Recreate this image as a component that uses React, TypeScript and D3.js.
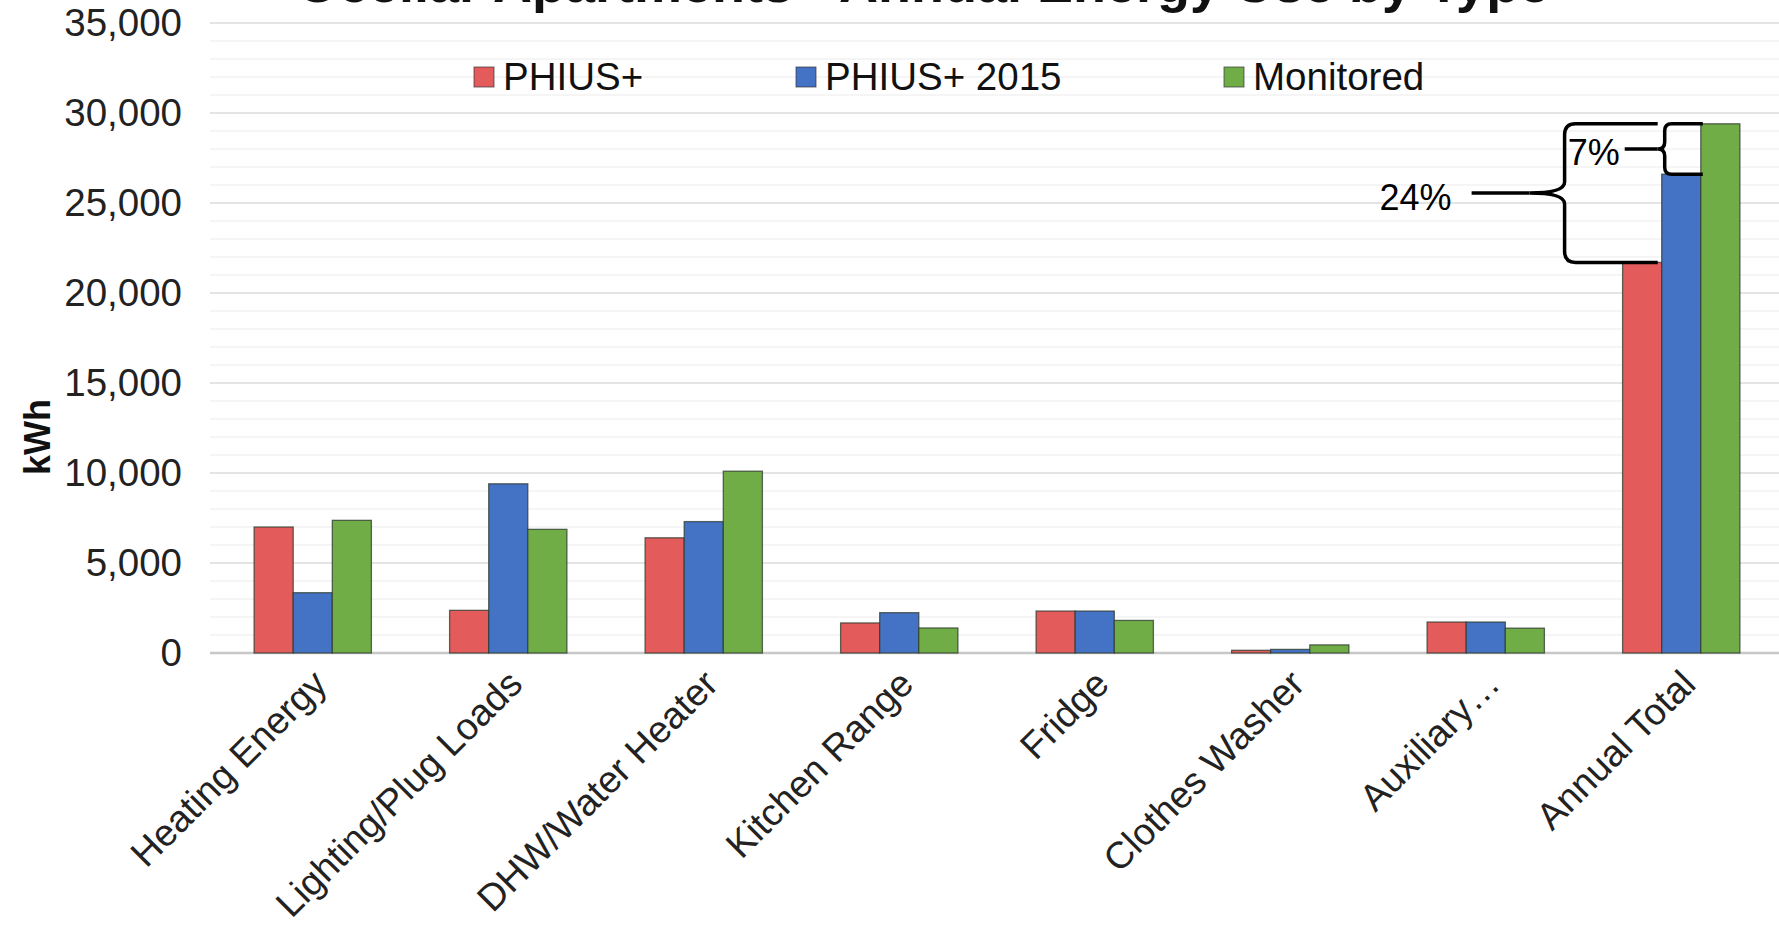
import React from "react";
import * as d3 from "d3";

const categories = [
  "Heating Energy",
  "Lighting/Plug Loads",
  "DHW/Water Heater",
  "Kitchen Range",
  "Fridge",
  "Clothes Washer",
  "Auxiliary…",
  "Annual Total",
];
const seriesNames = ["PHIUS+", "PHIUS+ 2015", "Monitored"];
const phiusPlus = [7000, 2370, 6400, 1670, 2330, 150, 1720, 21700];
const phiusPlus2015 = [3350, 9400, 7300, 2240, 2330, 200, 1720, 26600];
const monitored = [7370, 6870, 10100, 1390, 1810, 450, 1380, 29400];
const yTicks = [0, 5000, 10000, 15000, 20000, 25000, 30000, 35000];
const titleText = "Ocellar Apartments - Annual Energy Use by Type";
const yLabel = "kWh";
const pctLabels = ["24%", "7%"];

const colors = ["#e45b5b", "#4472c4", "#70ad47"];
const W = 1779;
const H = 927;
const FONT = "'Liberation Sans', Arial, sans-serif";

function bracePath(xv: number, yTop: number, yBot: number, armX: number, tipX: number, r: number) {
  const ym = (yTop + yBot) / 2;
  const p = d3.path();
  p.moveTo(armX, yTop);
  p.lineTo(xv + r, yTop);
  p.quadraticCurveTo(xv, yTop, xv, yTop + r);
  p.lineTo(xv, ym - r);
  p.quadraticCurveTo(xv, ym, tipX, ym);
  p.quadraticCurveTo(xv, ym, xv, ym + r);
  p.lineTo(xv, yBot - r);
  p.quadraticCurveTo(xv, yBot, xv + r, yBot);
  p.lineTo(armX, yBot);
  return p.toString();
}

export default function App() {
  const series = [phiusPlus, phiusPlus2015, monitored];
  const x = d3.scaleBand<string>().domain(categories).range([215, 1779]).paddingInner(0.4).paddingOuter(0.2);
  const xs = d3.scaleBand<string>().domain(seriesNames).range([0, x.bandwidth()]).padding(0);
  const y = d3.scaleLinear().domain([0, 35000]).range([653, 23]);
  const minorTicks = d3.range(0, 35001, 1000);

  const gridX0 = 210;
  const ann = categories.length - 1;
  const ax = x(categories[ann]) as number;
  const bw = xs.bandwidth();
  const yGreen = y(monitored[ann]);
  const yBlue = y(phiusPlus2015[ann]);
  const yRed = y(phiusPlus[ann]);

  // 24% brace
  const b1v = ax - 58;
  const b1tip = b1v - 35;
  const b1mid = (yGreen + yRed) / 2;
  // 7% brace
  const b2v = ax + bw + 3;
  const b2tip = b2v - 7;
  const b2mid = (yGreen + yBlue) / 2;

  const legendX = [474, 796, 1224];

  return (
    <svg width={W} height={H} style={{ display: "block", background: "#fff" }} fontFamily={FONT}>
      <style>{`body{margin:0}`}</style>
      {/* title (cut off at top, as in the source) */}
      <text x={923} y={2} textAnchor="middle" fontSize={54} fontWeight="bold" fill="#111">
        {titleText}
      </text>
      {/* minor gridlines */}
      {minorTicks.map((t) => (
        <line key={"m" + t} x1={gridX0} x2={W} y1={y(t)} y2={y(t)} stroke="#f2f2f2" strokeWidth={1.5} />
      ))}
      {/* major gridlines */}
      {yTicks.map((t) => (
        <line key={"g" + t} x1={gridX0} x2={W} y1={y(t)} y2={y(t)} stroke={t === 0 ? "#c8c8c8" : "#e4e4e4"} strokeWidth={t === 0 ? 2.5 : 1.8} />
      ))}
      {/* y tick labels */}
      {yTicks.map((t) => (
        <text key={"t" + t} x={182} y={y(t)} dy="0.35em" textAnchor="end" fontSize={38.5} fill="#222">
          {d3.format(",")(t)}
        </text>
      ))}
      <text transform={`translate(50,437) rotate(-90)`} textAnchor="middle" fontSize={36} fontWeight="bold" fill="#111">
        {yLabel}
      </text>
      {/* bars */}
      {categories.map((c, i) => (
        <g key={c}>
          {series.map((s, k) => (
            <rect
              key={k}
              x={(x(c) as number) + (xs(seriesNames[k]) as number)}
              y={y(s[i])}
              width={bw}
              height={y(0) - y(s[i])}
              fill={colors[k]}
              stroke="#2d3a2d"
              strokeOpacity={0.75}
              strokeWidth={1.3}
            />
          ))}
        </g>
      ))}
      {/* category labels */}
      {categories.map((c) => (
        <text
          key={"c" + c}
          transform={`translate(${(x(c) as number) + x.bandwidth() / 2 + 7},677) rotate(-45)`}
          textAnchor="end"
          dy="0.35em"
          fontSize={37.5}
          fill="#222"
        >
          {c}
        </text>
      ))}
      {/* legend */}
      {seriesNames.map((n, k) => (
        <g key={n}>
          <rect x={legendX[k]} y={67} width={20} height={20} fill={colors[k]} stroke="#333" strokeOpacity={0.7} strokeWidth={1} />
          <text x={legendX[k] + 29} y={77} dy="0.35em" fontSize={38.5} fill="#111">
            {n}
          </text>
        </g>
      ))}
      {/* braces */}
      <path d={bracePath(b1v, yGreen, yRed, ax + bw - 4, b1tip, 11)} fill="none" stroke="#000" strokeWidth={3.5} />
      <line x1={b1tip} x2={b1tip - 58} y1={b1mid} y2={b1mid} stroke="#000" strokeWidth={3.5} />
      <text x={b1tip - 78} y={b1mid + 17} textAnchor="end" fontSize={36} fill="#000">
        {pctLabels[0]}
      </text>
      <path d={bracePath(b2v, yGreen, yBlue, ax + 2 * bw + 2, b2tip, 7)} fill="none" stroke="#000" strokeWidth={3.5} />
      <line x1={b2tip} x2={b2tip - 33} y1={b2mid} y2={b2mid} stroke="#000" strokeWidth={3.5} />
      <text x={b2tip - 38} y={b2mid + 16} textAnchor="end" fontSize={36} fill="#000">
        {pctLabels[1]}
      </text>
    </svg>
  );
}
